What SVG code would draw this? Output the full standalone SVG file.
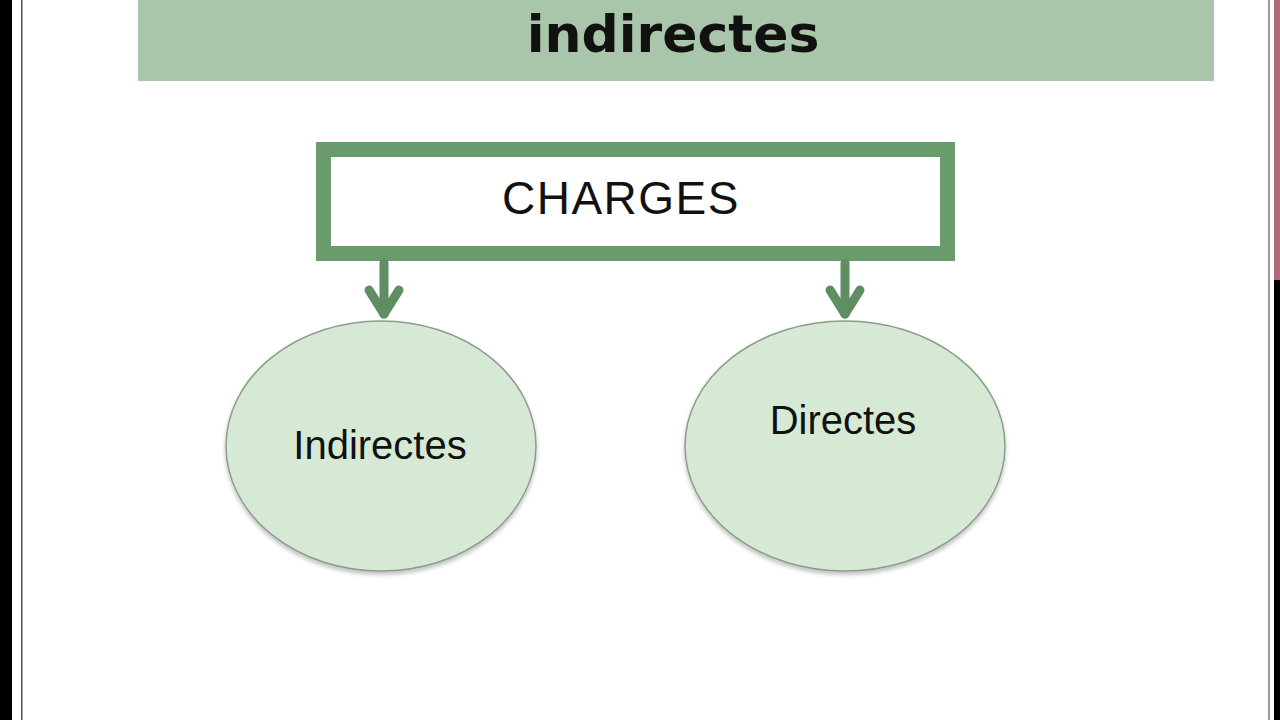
<svg xmlns="http://www.w3.org/2000/svg" width="1280" height="720" viewBox="0 0 1280 720">
<defs>
<style>
.lbl{font-family:"Liberation Sans",Arial,sans-serif;fill:#111;text-anchor:middle}
.node{fill:#d6e9d4;stroke:#8c9c8c;stroke-width:1.5}
.conn{stroke:#5e8e61;stroke-width:9;fill:none;stroke-linecap:round;stroke-linejoin:round}
</style>
<filter id="sh" x="-10%" y="-10%" width="120%" height="130%">
<feGaussianBlur in="SourceAlpha" stdDeviation="2"/>
<feOffset dy="3"/>
<feComponentTransfer><feFuncA type="linear" slope="0.25"/></feComponentTransfer>
<feMerge><feMergeNode/><feMergeNode in="SourceGraphic"/></feMerge>
</filter>
<pattern id="stripes" width="9" height="20" patternUnits="userSpaceOnUse">
<rect width="9" height="20" fill="#d6e9d4"/>
<line x1="4" y1="0" x2="4" y2="20" stroke="#cadfc8" stroke-width="1"/>
</pattern>
</defs>
<rect width="1280" height="720" fill="#ffffff"/>
<rect x="0" y="0" width="12" height="720" fill="#000"/>
<rect x="21" y="0" width="1.5" height="720" fill="#555"/>
<rect x="1268" y="0" width="2" height="720" fill="#999"/>
<rect x="1274" y="0" width="6" height="720" fill="#000"/>
<rect x="1274" y="0" width="6" height="280" fill="#b36a78"/>
<g id="title">
<rect x="138" y="0" width="1076" height="81" fill="#a9c6aa"/>
<text x="673" y="52" font-family="'DejaVu Sans',sans-serif" font-weight="bold" font-size="52" text-anchor="middle" fill="#111">indirectes</text>
</g>
<g id="charges">
<rect x="323.5" y="149.5" width="624" height="104" fill="#fff" stroke="#6a9b6c" stroke-width="15"/>
<text class="lbl" x="621" y="214" font-size="46" letter-spacing="1.5">CHARGES</text>
</g>
<g id="connectors">
<path class="conn" d="M384 263 V314"/>
<path class="conn" d="M369 290 L384 314 L399 290"/>
<path class="conn" d="M845 263 V314"/>
<path class="conn" d="M830 290 L845 314 L860 290"/>
</g>
<g id="indirectes">
<ellipse class="node" cx="381" cy="446" rx="155" ry="125" fill="url(#stripes)" filter="url(#sh)"/>
<text class="lbl" x="380" y="459" font-size="40">Indirectes</text>
</g>
<g id="directes">
<ellipse class="node" cx="845" cy="446" rx="160" ry="125" fill="url(#stripes)" filter="url(#sh)"/>
<text class="lbl" x="843" y="434" font-size="40">Directes</text>
</g>
</svg>
